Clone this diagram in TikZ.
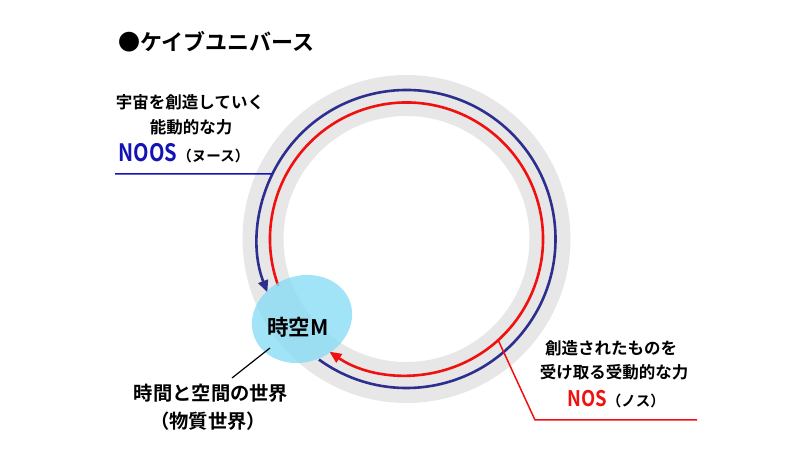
\documentclass[tikz,border=0pt]{standalone}
\usepackage{fontspec}
\setmainfont{Noto Sans CJK JP}
\newfontfamily\jpb{Noto Sans CJK JP Bold}
\usetikzlibrary{calc,arrows.meta,shapes.geometric}
\definecolor{ringgray}{HTML}{E7E7E7}
\definecolor{navy}{HTML}{2E2E8E}
\definecolor{noosblue}{HTML}{1414B4}
\definecolor{nosred}{HTML}{F01010}
\definecolor{skyfill}{HTML}{86DCF5}
\tikzset{
  lbl/.style={font=\jpb, text=black, inner sep=0pt, align=center},
  bluearc/.style={draw=navy, line width=2.6pt, -{Triangle[length=12pt,width=10pt]}},
  redarc/.style={draw=nosred, line width=2.6pt, -{Triangle[length=12pt,width=10pt]}},
}
\begin{document}
\begin{tikzpicture}[x=1pt,y=1pt]
\useasboundingbox (0,0) rectangle (804,455);
\coordinate (C) at (406.5,216);
% ring
\draw[ringgray, line width=41pt] (C) circle[radius=143.5];
% arcs
\draw[bluearc] ($(C)+(234:149)$) arc[start angle=234, end angle=561, radius=149];
\draw[redarc] ($(C)+(200:136.5)$) arc[start angle=200, end angle=-124.4, radius=136.5];
% blob
\node (blob) [ellipse, fill=skyfill, fill opacity=0.78, minimum width=102pt, minimum height=86pt, rotate=20, inner sep=0pt] at (302,136) {};
\node (blobtxt) [lbl, font=\jpb\fontsize{21.5}{25}\selectfont] at (298,128) {時空M};
% title
\node (title) [lbl, anchor=west, font=\jpb\fontsize{22}{26}\selectfont] at (118,413) {●ケイブユニバース};
% NOOS
\node (noos1) [lbl, font=\jpb\fontsize{16.5}{19}\selectfont] at (190,353) {宇宙を創造していく};
\node (noos2) [lbl, font=\jpb\fontsize{16.5}{19}\selectfont] at (191,328) {能動的な力};
\node (noos3) [lbl, anchor=base] at (184,293) {\textcolor{noosblue}{\fontsize{24}{28}\selectfont\scalebox{0.84}[1]{NOOS}}\fontsize{14.5}{16}\selectfont（ヌース）};
\coordinate (bl) at (115,281);
\coordinate (bluehit) at ($(C)+(154.1:149)$);
\draw[noosblue, line width=1.5pt] (bl) -- (bluehit);
% NOS
\node (nos1) [lbl, font=\jpb\fontsize{16.5}{19}\selectfont] at (611,107) {創造されたものを};
\node (nos2) [lbl, font=\jpb\fontsize{16.5}{19}\selectfont] at (614,83) {受け取る受動的な力};
\node (nos3) [lbl, anchor=base] at (616,48) {\textcolor{nosred}{\fontsize{21.5}{26}\selectfont\scalebox{0.86}[1]{NOS}}\fontsize{14.5}{16}\selectfont（ノス）};
\coordinate (redhit) at ($(C)+(-47.8:136.5)$);
\coordinate (rbend) at (535,35);
\coordinate (rend) at (697,35);
\draw[nosred, line width=1.5pt] (redhit) -- (rbend) -- (rend);
% world
\node (w1) [lbl, font=\jpb\fontsize{19.3}{23}\selectfont] at (211,62) {時間と空間の世界};
\node (w2) [lbl, font=\jpb\fontsize{19.3}{23}\selectfont] at (208,34) {（物質世界）};
\coordinate (wl1) at (270,107);
\coordinate (wl2) at (232,77);
\draw[black, line width=1.2pt] (wl1) -- (wl2);
\end{tikzpicture}
\end{document}
